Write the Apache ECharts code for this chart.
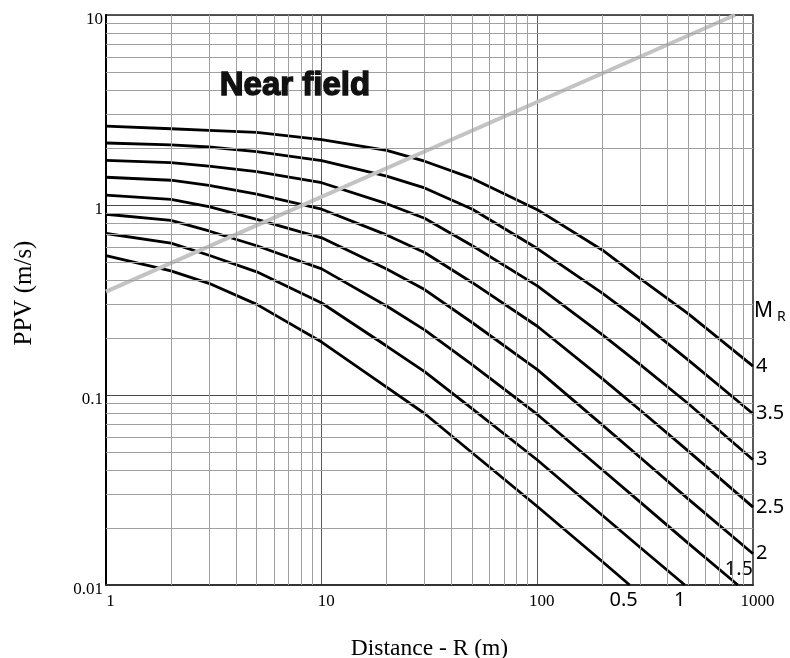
<!DOCTYPE html>
<html><head><meta charset="utf-8">
<script src="https://cdn.jsdelivr.net/npm/echarts@6/dist/echarts.min.js"></script>
<style>html,body{margin:0;padding:0;background:#fff}#c{width:790px;height:658px}</style>
</head><body><div id="c"></div>
<script>
// ---- data ----
const xTicks = [1, 10, 100, 1000];
const yTicks = [0.01, 0.1, 1, 10];
const minorX = [2,3,4,5,6,7,8,9,20,30,40,50,60,70,80,90,200,300,400,500,600,700,800,900];
const minorY = [0.02,0.03,0.04,0.05,0.06,0.07,0.08,0.09,0.2,0.3,0.4,0.5,0.6,0.7,0.8,0.9,2,3,4,5,6,7,8,9];

const distFull = [1, 2, 3, 5, 10, 20, 30, 50, 100, 200, 300, 500, 1000];
const distM15  = [1, 2, 3, 5, 10, 20, 30, 50, 100, 200, 300, 500, 851];
const distM1   = [1, 2, 3, 5, 10, 20, 30, 50, 100, 200, 300, 483];
const distM05  = [1, 2, 3, 5, 10, 20, 30, 50, 100, 200, 268];

const ppvM4  = [2.60, 2.52, 2.47, 2.41, 2.21, 1.94, 1.70, 1.38, 0.945, 0.58, 0.41, 0.268, 0.142];
const ppvM35 = [2.12, 2.07, 2.02, 1.91, 1.71, 1.42, 1.23, 0.95, 0.59, 0.344, 0.244, 0.153, 0.0797];
const ppvM3  = [1.716, 1.67, 1.60, 1.50, 1.31, 1.016, 0.851, 0.61, 0.375, 0.208, 0.1445, 0.0902, 0.0456];
const ppvM25 = [1.40, 1.35, 1.27, 1.14, 0.95, 0.696, 0.562, 0.39, 0.23, 0.122, 0.0831, 0.0508, 0.0257];
const ppvM2  = [1.127, 1.07, 0.98, 0.84, 0.672, 0.461, 0.359, 0.24, 0.136, 0.0696, 0.0469, 0.0284, 0.0146];
const ppvM15 = [0.894, 0.83, 0.73, 0.61, 0.461, 0.294, 0.22, 0.144, 0.079, 0.0404, 0.0273, 0.0166, 0.01];
const ppvM1  = [0.708, 0.63, 0.544, 0.445, 0.305, 0.181, 0.1327, 0.0845, 0.0455, 0.0233, 0.01575, 0.01];
const ppvM05 = [0.542, 0.45, 0.387, 0.30, 0.19, 0.11, 0.0799, 0.0495, 0.0259, 0.0133, 0.01];

const nearFieldDist = [1, 825];
const nearFieldPPV  = [0.35, 10];

const curves = [
  {name: '4',   dist: distFull, ppv: ppvM4},
  {name: '3.5', dist: distFull, ppv: ppvM35},
  {name: '3',   dist: distFull, ppv: ppvM3},
  {name: '2.5', dist: distFull, ppv: ppvM25},
  {name: '2',   dist: distFull, ppv: ppvM2},
  {name: '1.5', dist: distM15,  ppv: ppvM15},
  {name: '1',   dist: distM1,   ppv: ppvM1},
  {name: '0.5', dist: distM05,  ppv: ppvM05}
];

// ---- chart ----
const endLabelPlacement = {
  '1.5': {align: 'center', distance: 0, offset: [1, -16]},
  '1':   {align: 'center', distance: 0, offset: [-5, 15]},
  '0.5': {align: 'center', distance: 0, offset: [-6, 15]}
};
const labelFont = {fontFamily: 'Noto Sans', fontSize: 20, color: '#000'};

const fmt = (ticks) => (v) => {
  const t = ticks.find(t => Math.abs(Math.log10(t) - Math.log10(v)) < 1e-6);
  return t === undefined ? '' : String(t);
};

const series = [];
series.push({
  type: 'line', data: [], silent: true, z: 1,
  markLine: {
    silent: true, symbol: 'none', animation: false,
    label: {show: false},
    lineStyle: {color: '#a0a0a0', width: 1, type: 'solid'},
    data: minorX.map(v => ({xAxis: v})).concat(minorY.map(v => ({yAxis: v})))
  }
});
curves.forEach(c => {
  const pl = endLabelPlacement[c.name] || {distance: 3};
  series.push({
    type: 'line', name: c.name, z: 3,
    data: c.dist.map((d, i) => [d, c.ppv[i]]),
    showSymbol: false, symbol: 'none', animation: false,
    lineStyle: {color: '#000', width: 2.8},
    endLabel: Object.assign({show: true, formatter: c.name}, labelFont, pl)
  });
});
series.push({
  type: 'line', name: 'near field', z: 4, symbol: 'none', animation: false,
  data: nearFieldDist.map((d, i) => [d, nearFieldPPV[i]]),
  lineStyle: {color: '#c3c3c3', width: 4}
});

const chart = echarts.init(document.getElementById('c'), null, {renderer: 'canvas'});
chart.setOption({
  backgroundColor: '#fff',
  animation: false,
  grid: {left: 106, top: 15, width: 647, height: 570, containLabel: false, outerBoundsMode: 'none',
         show: true, borderColor: '#222', borderWidth: 1.5, backgroundColor: 'transparent'},
  xAxis: {
    type: 'log', logBase: 10, min: 1, max: 1000,
    name: 'Distance - R (m)', nameLocation: 'middle', nameGap: 52,
    nameTextStyle: {fontFamily: 'Liberation Serif', fontSize: 23.5, color: '#000'},
    axisLine: {show: true, onZero: false, lineStyle: {color: '#333', width: 2}},
    axisTick: {show: false},
    axisLabel: {formatter: fmt(xTicks), fontFamily: 'Liberation Serif', fontSize: 17, color: '#000', margin: 8, padding: [0, 0, 0, 9]},
    splitLine: {show: true, lineStyle: {color: '#5a5a5a', width: 1}}
  },
  yAxis: {
    type: 'log', logBase: 10, min: 0.01, max: 10,
    name: 'PPV (m/s)', nameLocation: 'middle', nameGap: 69,
    nameTextStyle: {fontFamily: 'Liberation Serif', fontSize: 25, color: '#000', padding: [0, 0, 0, 14]},
    axisLine: {show: true, onZero: false, lineStyle: {color: '#000', width: 2}},
    axisTick: {show: false},
    axisLabel: {formatter: fmt(yTicks), fontFamily: 'Liberation Serif', fontSize: 17, color: '#000', margin: 3, verticalAlign: 'top', lineHeight: 9},
    splitLine: {show: true, lineStyle: {color: '#4a4a4a', width: 1}}
  },
  graphic: [
    {type: 'text', left: 219, top: 69, z: 10,
     style: {text: 'Near field', fontFamily: 'Liberation Sans', fontWeight: 'bold', fontSize: 33, fill: '#111', stroke: '#111', lineWidth: 1.4}},
    {type: 'text', left: 754, top: 301, z: 10,
     style: {text: 'M', fontFamily: 'Noto Sans', fontSize: 21, fill: '#000'}},
    {type: 'text', left: 777, top: 310, z: 10,
     style: {text: 'R', fontFamily: 'Noto Sans', fontSize: 14, fill: '#000'}}
  ],
  series
});
</script>
</body></html>
